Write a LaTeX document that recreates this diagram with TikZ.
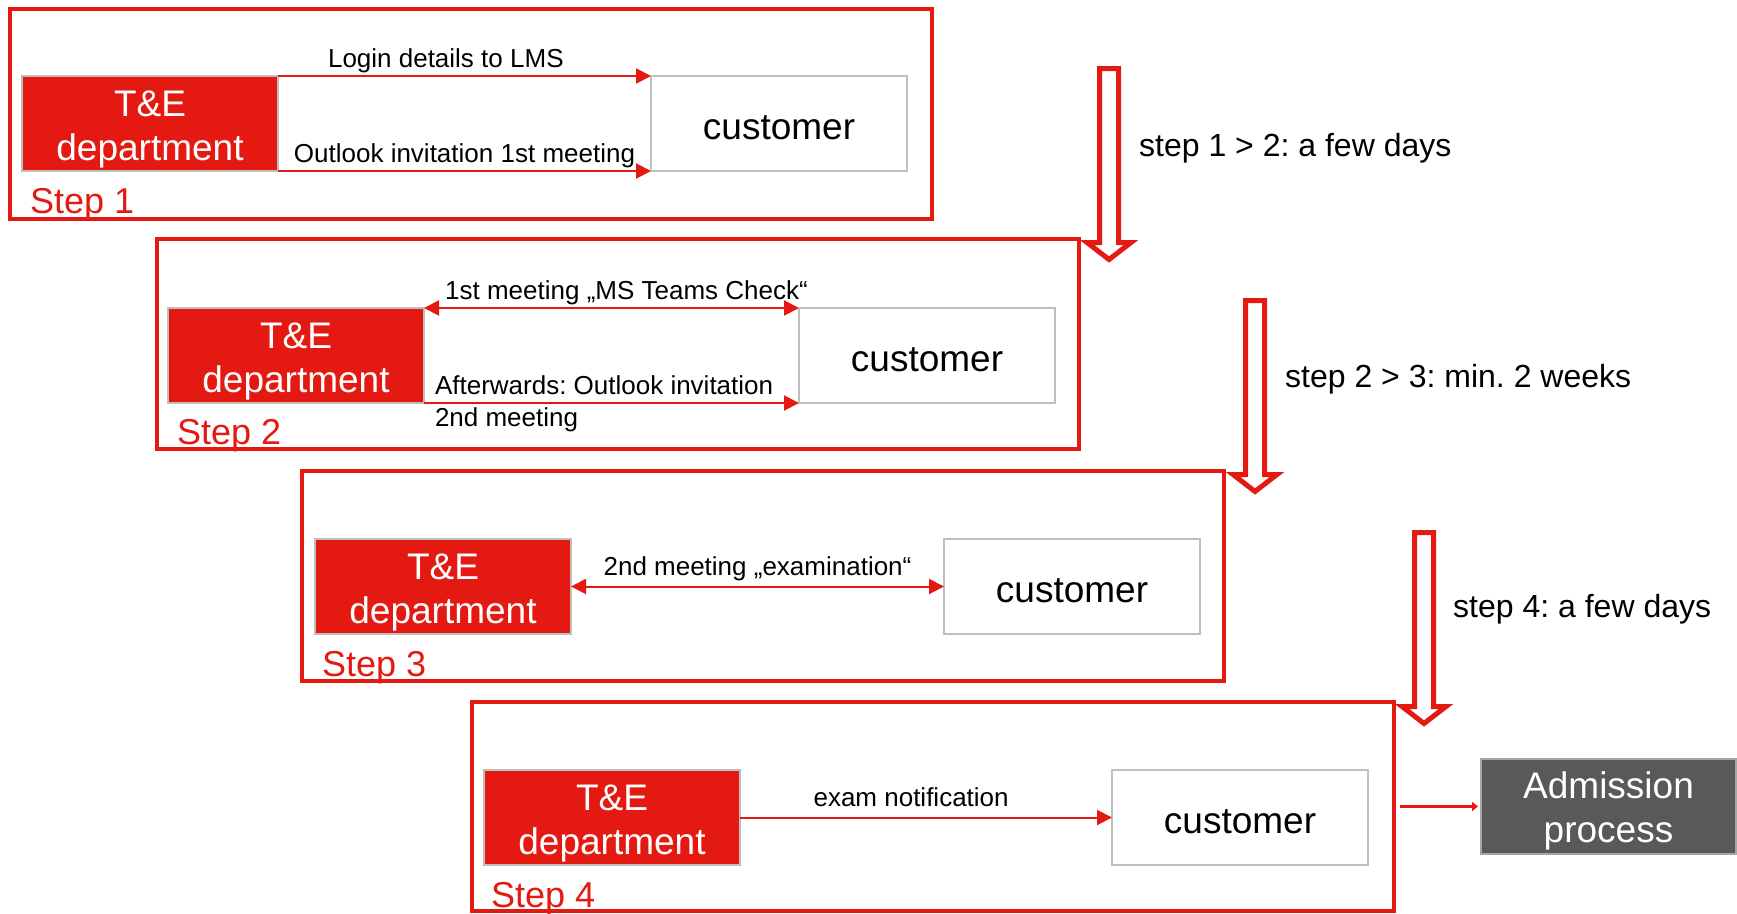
\documentclass[tikz,border=0pt]{standalone}
\usepackage{fontspec}
\setmainfont{Liberation Sans}
\usetikzlibrary{arrows.meta,calc}
\definecolor{tered}{RGB}{228,26,18}
\definecolor{boxgray}{RGB}{191,191,191}
\definecolor{admgray}{RGB}{89,89,89}
\definecolor{admborder}{RGB}{166,166,166}
\frenchspacing
\begin{document}
\begin{tikzpicture}[x=1pt,y=-1pt,
  stepframe/.style={draw=tered, line width=3.3pt, minimum width=922pt, minimum height=210pt, inner sep=0pt, outer sep=0pt, anchor=north west},
  boxbase/.style={draw=boxgray, line width=2pt, minimum width=256pt, minimum height=95pt, inner sep=0pt, outer sep=0pt, align=center, font=\fontsize{37}{44}\selectfont, anchor=north west},
  tebox/.style={boxbase, fill=tered, text=white, text height=74pt, text depth=0pt},
  custbox/.style={boxbase, fill=white, text=black, text height=32pt, text depth=0pt},
  admbox/.style={boxbase, fill=admgray, draw=admborder, text=white, minimum width=255pt, text height=71pt, text depth=0pt},
  conn/.style={draw=tered, line width=2pt, -{Triangle[length=15pt,width=15pt]}},
  biconn/.style={draw=tered, line width=2pt, {Triangle[length=15pt,width=15pt]}-{Triangle[length=15pt,width=15pt]}},
  admconn/.style={draw=tered, line width=3pt, -{Triangle[length=6pt,width=9pt]}, shorten <=6pt, shorten >=3pt},
  lbl/.style={font=\fontsize{26}{30}\selectfont, inner sep=2pt, text height=20pt, text depth=6pt},
  steplbl/.style={text=tered, font=\fontsize{36}{40}\selectfont, anchor=base west, inner sep=0pt},
  sidelbl/.style={font=\fontsize{32}{36}\selectfont, anchor=west, inner sep=0pt},
  hollow/.style={draw=tered, line width=5pt, fill=white, line join=miter},
  harrow/.pic={\draw[hollow] (-9.5,2.5) -- (9.5,2.5) -- (9.5,176.5) -- (22,176.5) -- (0,193.5) -- (-22,176.5) -- (-9.5,176.5) -- cycle;}
]
\useasboundingbox (0,0) rectangle (1737,913);

% step frames
\node[stepframe] (f1) at (10,9) {};
\node[stepframe] (f2) at (157,239) {};
\node[stepframe] (f3) at (302,471) {};
\node[stepframe, minimum height=209pt] (f4) at (472,702) {};

% step labels
\node[steplbl] (s1) at (30,213) {Step 1};
\node[steplbl] (s2) at (177,444.5) {Step 2};
\node[steplbl] (s3) at (322,676) {Step 3};
\node[steplbl] (s4) at (491,907.5) {Step 4};

% boxes
\node[tebox] (te1) at (22,76) {T\&E\\department};
\node[custbox] (cu1) at (651,76) {customer};
\node[tebox] (te2) at (168,308) {T\&E\\department};
\node[custbox] (cu2) at (799,308) {customer};
\node[tebox] (te3) at (315,539) {T\&E\\department};
\node[custbox] (cu3) at (944,539) {customer};
\node[tebox] (te4) at (484,770) {T\&E\\department};
\node[custbox] (cu4) at (1112,770) {customer};
\node[admbox] (adm) at (1481,759) {Admission\\process};

% connectors
\draw[conn] (te1.north east) -- node[lbl, above, pos=0.45] {Login details to LMS} (cu1.north west);
\draw[conn] (te1.south east) -- node[lbl, above] {Outlook invitation 1st meeting} (cu1.south west);

\draw[biconn] (te2.north east) -- node[lbl, above, pos=0.54] {1st meeting „MS Teams Check“} (cu2.north west);
\draw[conn] (te2.south east) -- node[lbl, above right, pos=0, xshift=8pt] {Afterwards: Outlook invitation}
  node[lbl, below right, pos=0, xshift=8pt] {2nd meeting} (cu2.south west);

\draw[biconn] (te3.east) -- node[lbl, above=2pt] {2nd meeting „examination“} (cu3.west);

\draw[conn] (te4.east) -- node[lbl, above=2pt, pos=0.46] {exam notification} (cu4.west);

\draw[admconn] (f4.east) -- (f4.east -| adm.west);

% hollow down arrows
\pic at (1109,66) {harrow};
\pic at (1255,298) {harrow};
\pic at (1424,530) {harrow};

% side labels
\node[sidelbl] (l1) at (1139,148.5) {step 1 > 2: a few days};
\node[sidelbl] (l2) at (1285,379) {step 2 > 3: min. 2 weeks};
\node[sidelbl] (l3) at (1453,609) {step 4: a few days};
\end{tikzpicture}
\end{document}
